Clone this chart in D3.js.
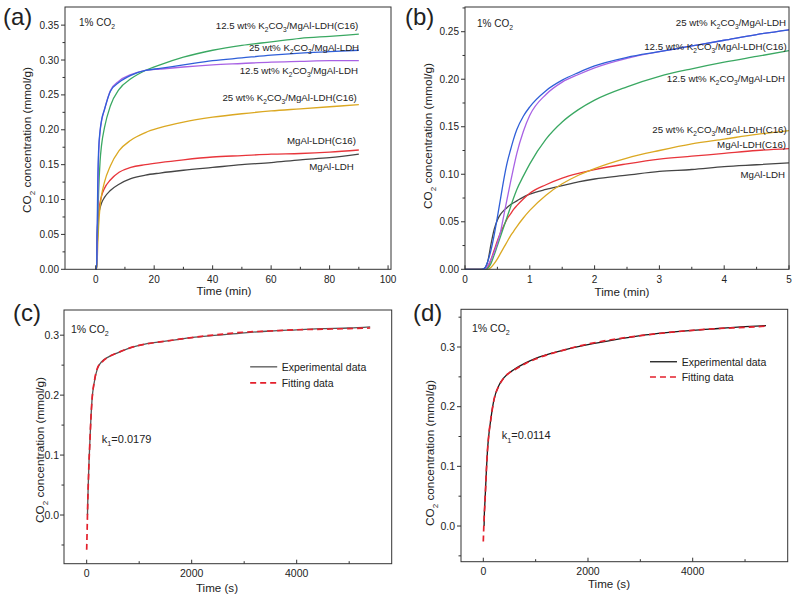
<!DOCTYPE html>
<html>
<meta charset="utf-8">
<script src="https://d3js.org/d3.v7.min.js"></script>
<style>
  body { margin: 0; background: #fff; }
  text { font-family: "Liberation Sans", Arial, sans-serif; fill: #222; white-space: pre; }
</style>
<body>
<div id="chart"></div>
<script>

// ---------- data ----------

// (a) uptake over 90 min
var timeA = [0, 0.3, 0.5, 0.75, 1, 1.5, 2, 3, 5, 8, 12, 17, 22, 30, 40, 50, 60, 70, 80, 90];
var aMgAl      = [0, 0, 0.052, 0.070, 0.079, 0.088, 0.095, 0.103, 0.113, 0.122, 0.130, 0.135, 0.138, 0.142, 0.146, 0.150, 0.153, 0.157, 0.160, 0.165];
var aMgAlC16   = [0, 0, 0.030, 0.063, 0.080, 0.096, 0.105, 0.116, 0.128, 0.139, 0.146, 0.150, 0.153, 0.157, 0.161, 0.163, 0.165, 0.166, 0.168, 0.171];
var a25C16     = [0, 0, 0.011, 0.040, 0.062, 0.090, 0.106, 0.125, 0.148, 0.170, 0.185, 0.196, 0.203, 0.211, 0.218, 0.223, 0.227, 0.230, 0.233, 0.236];
var a125C16    = [0, 0, 0.025, 0.075, 0.111, 0.155, 0.178, 0.203, 0.234, 0.258, 0.273, 0.285, 0.293, 0.304, 0.314, 0.321, 0.326, 0.331, 0.334, 0.337];
var a25        = [0, 0, 0.055, 0.137, 0.171, 0.199, 0.214, 0.229, 0.255, 0.268, 0.278, 0.285, 0.288, 0.293, 0.299, 0.303, 0.307, 0.310, 0.312, 0.314];
var a125       = [0, 0, 0.028, 0.110, 0.163, 0.197, 0.212, 0.229, 0.256, 0.270, 0.279, 0.285, 0.287, 0.290, 0.293, 0.295, 0.297, 0.298, 0.299, 0.299];

// (b) first 5 min
var timeB = [0, 0.25, 0.3, 0.35, 0.4, 0.45, 0.5, 0.55, 0.6, 0.65, 0.7, 0.75, 0.8, 0.9, 1, 1.25, 1.5, 1.75, 2, 2.5, 3, 3.5, 4, 4.5, 5];
var bMgAl    = [0, 0, 0.001, 0.008, 0.026, 0.042, 0.052, 0.058, 0.062, 0.065, 0.068, 0.070, 0.072, 0.076, 0.079, 0.084, 0.088, 0.092, 0.095, 0.099, 0.103, 0.105, 0.108, 0.110, 0.112];
var bMgAlC16 = [0, 0, 0, 0.002, 0.010, 0.020, 0.030, 0.039, 0.046, 0.053, 0.058, 0.063, 0.067, 0.074, 0.080, 0.089, 0.096, 0.101, 0.105, 0.111, 0.116, 0.119, 0.122, 0.125, 0.127];
var b25C16   = [0, 0, 0, 0, 0.002, 0.006, 0.011, 0.017, 0.023, 0.029, 0.035, 0.040, 0.045, 0.054, 0.062, 0.078, 0.090, 0.099, 0.106, 0.117, 0.125, 0.132, 0.137, 0.142, 0.146];
var b125C16  = [0, 0, 0, 0.001, 0.006, 0.015, 0.025, 0.035, 0.045, 0.055, 0.065, 0.075, 0.084, 0.098, 0.111, 0.137, 0.155, 0.168, 0.178, 0.192, 0.203, 0.211, 0.218, 0.224, 0.230];
var b25      = [0, 0, 0.001, 0.008, 0.020, 0.036, 0.055, 0.075, 0.095, 0.112, 0.125, 0.137, 0.147, 0.161, 0.171, 0.188, 0.199, 0.207, 0.214, 0.223, 0.229, 0.235, 0.241, 0.247, 0.252];
var b125     = [0, 0, 0, 0.004, 0.010, 0.018, 0.028, 0.040, 0.057, 0.074, 0.091, 0.107, 0.122, 0.145, 0.162, 0.184, 0.197, 0.205, 0.212, 0.222, 0.229, 0.235, 0.241, 0.247, 0.252];

// (c) and (d) experimental vs fitted, time in seconds
var timeExp = [15, 20, 30, 45, 60, 80, 100, 150, 200, 300, 400, 600, 800, 1000, 1500, 2000, 2500, 3000, 3500, 4000, 4500, 5000, 5400];
var timeFit = [0, 10, 20, 30, 45, 60, 80, 100, 150, 200, 300, 400, 600, 800, 1000, 1500, 2000, 2500, 3000, 3500, 4000, 4500, 5000, 5400];
var cExp = [0, 0.02, 0.05, 0.09, 0.12, 0.16, 0.19, 0.224, 0.243, 0.257, 0.263, 0.271, 0.278, 0.283, 0.290, 0.296, 0.300, 0.304, 0.307, 0.309, 0.311, 0.312, 0.314];
var cFit = [-0.058, -0.02, 0.02, 0.05, 0.09, 0.12, 0.16, 0.19, 0.225, 0.244, 0.256, 0.263, 0.271, 0.278, 0.283, 0.290, 0.296, 0.301, 0.305, 0.307, 0.309, 0.310, 0.311, 0.312];
var dExp = [0, 0.02, 0.038, 0.066, 0.095, 0.127, 0.148, 0.183, 0.210, 0.236, 0.249, 0.263, 0.273, 0.281, 0.294, 0.304, 0.312, 0.319, 0.324, 0.328, 0.331, 0.334, 0.336];
var dFit = [-0.026, 0.0, 0.02, 0.038, 0.066, 0.095, 0.127, 0.148, 0.183, 0.210, 0.235, 0.249, 0.262, 0.272, 0.280, 0.294, 0.305, 0.313, 0.319, 0.324, 0.328, 0.331, 0.333, 0.335];

// labels
var nameMgAl = "MgAl-LDH", nameMgAlC16 = "MgAl-LDH(C16)";
var name25C16 = "25 wt% K_2CO_3/MgAl-LDH(C16)", name125C16 = "12.5 wt% K_2CO_3/MgAl-LDH(C16)";
var name25 = "25 wt% K_2CO_3/MgAl-LDH", name125 = "12.5 wt% K_2CO_3/MgAl-LDH";

var colors = { black: "#454545", red: "#e8353b", gold: "#dba822", green: "#3aa862", blue: "#2f5fd8", purple: "#a862e4" };

var W = 796, H = 596;
var svg = d3.select("#chart").append("svg").attr("width", W).attr("height", H);

// text with "_x" as subscript
function rich(t, s, fs) {
  var parts = [], buf = "";
  for (var i = 0; i < s.length; i++) {
    if (s[i] === "_") { if (buf) parts.push([buf, false]); buf = ""; parts.push([s[i + 1], true]); i++; }
    else buf += s[i];
  }
  if (buf) parts.push([buf, false]);
  var down = false;
  parts.forEach(function(p) {
    var ts = t.append("tspan").text(p[0]);
    if (p[1]) { ts.attr("font-size", fs * 0.68).attr("dy", fs * 0.3); down = true; }
    else if (down) { ts.attr("dy", -fs * 0.3); down = false; }
  });
  return t;
}

function drawPanel(p) {
  var x = d3.scaleLinear().domain(p.xDom).range([p.frame.l, p.frame.r]);
  var y = d3.scaleLinear().domain(p.yDom).range([p.frame.b, p.frame.t]);
  var g = svg.append("g");

  // lines
  var line = d3.line().curve(d3.curveMonotoneX).x(function(d) { return x(d[0]); }).y(function(d) { return y(d[1]); });
  p.series.forEach(function(s) {
    g.append("path")
      .datum(d3.zip(s.t, s.v))
      .attr("d", line)
      .attr("fill", "none")
      .attr("stroke", s.color)
      .attr("stroke-width", s.w || 1.3)
      .attr("stroke-dasharray", s.dash || null);
  });

  // frame
  g.append("rect")
    .attr("x", p.frame.l).attr("y", p.frame.t)
    .attr("width", p.frame.r - p.frame.l).attr("height", p.frame.b - p.frame.t)
    .attr("fill", "none").attr("stroke", "#333").attr("stroke-width", 1);

  // x ticks point inward, y ticks outward
  p.xTicks.forEach(function(v) {
    g.append("line").attr("x1", x(v)).attr("x2", x(v)).attr("y1", p.frame.b).attr("y2", p.frame.b - 4).attr("stroke", "#333");
    g.append("text").attr("x", x(v)).attr("y", p.frame.b + p.xLabGap).attr("text-anchor", "middle")
      .attr("font-size", p.tickFs).text(p.xFmt(v));
  });
  p.xMinor.forEach(function(v) {
    g.append("line").attr("x1", x(v)).attr("x2", x(v)).attr("y1", p.frame.b).attr("y2", p.frame.b - 2.5).attr("stroke", "#333");
  });
  p.yTicks.forEach(function(v) {
    g.append("line").attr("x1", p.frame.l).attr("x2", p.frame.l - 4).attr("y1", y(v)).attr("y2", y(v)).attr("stroke", "#333");
    g.append("text").attr("x", p.frame.l - p.yLabGap).attr("y", y(v) + p.tickFs * 0.36).attr("text-anchor", "end")
      .attr("font-size", p.tickFs).text(p.yFmt(v));
  });
  p.yMinor.forEach(function(v) {
    g.append("line").attr("x1", p.frame.l).attr("x2", p.frame.l - 2.5).attr("y1", y(v)).attr("y2", y(v)).attr("stroke", "#333");
  });

  // axis titles
  g.append("text").attr("x", p.xTitle[0]).attr("y", p.xTitle[1]).attr("text-anchor", "middle")
    .attr("font-size", 11.6).text(p.xTitle[2]);
  rich(g.append("text").attr("transform", "translate(" + p.yTitle[0] + "," + p.yTitle[1] + ") rotate(-90)")
    .attr("text-anchor", "middle").attr("font-size", 11.8), "CO_2 concentration (mmol/g)", 11.8);

  // panel letter
  g.append("text").attr("x", p.letter[0]).attr("y", p.letter[1]).attr("font-size", 24).attr("fill", "#111").text(p.letter[2]);

  // annotations in data coordinates
  p.notes.forEach(function(n) {
    rich(g.append("text").attr("x", x(n.x)).attr("y", y(n.y)).attr("text-anchor", n.anchor || "start")
      .attr("font-size", n.fs), n.text, n.fs);
  });

  // legend (c, d)
  if (p.legend) {
    p.legend.forEach(function(l) {
      g.append("line").attr("x1", x(l.x0)).attr("x2", x(l.x1)).attr("y1", y(l.y)).attr("y2", y(l.y))
        .attr("stroke", l.color).attr("stroke-width", l.w).attr("stroke-dasharray", l.dash || null);
      g.append("text").attr("x", x(l.tx)).attr("y", y(l.y) + 3.8).attr("font-size", 10.5).text(l.text);
    });
  }
}

var f2 = d3.format(".2f"), f1 = d3.format(".1f"), fInt = d3.format("d");
var labFs = 9.7;

drawPanel({
  frame: { l: 65, r: 391, t: 7, b: 269.3 },
  xDom: [-10.5, 101], yDom: [0, 0.376],
  xTicks: [0, 20, 40, 60, 80, 100], xMinor: [10, 30, 50, 70, 90],
  yTicks: [0, 0.05, 0.1, 0.15, 0.2, 0.25, 0.3, 0.35], yMinor: [0.025, 0.075, 0.125, 0.175, 0.225, 0.275, 0.325],
  xFmt: fInt, yFmt: f2, tickFs: 10, xLabGap: 13.5, yLabGap: 6,
  xTitle: [224, 295, "Time (min)"], yTitle: [31, 140],
  letter: [3, 25, "(a)"],
  series: [
    { t: timeA, v: aMgAl, color: colors.black },
    { t: timeA, v: aMgAlC16, color: colors.red },
    { t: timeA, v: a25C16, color: colors.gold },
    { t: timeA, v: a125C16, color: colors.green },
    { t: timeA, v: a125, color: colors.purple },
    { t: timeA, v: a25, color: colors.blue }
  ],
  notes: [
    { x: -5.7, y: 0.349, text: "1% CO_2", fs: 10 },
    { x: 89.8, y: 0.3445, text: name125C16, fs: labFs, anchor: "end" },
    { x: 90.1, y: 0.313, text: name25, fs: labFs, anchor: "end" },
    { x: 89.7, y: 0.280, text: name125, fs: labFs, anchor: "end" },
    { x: 89.3, y: 0.2417, text: name25C16, fs: labFs, anchor: "end" },
    { x: 89, y: 0.179, text: nameMgAlC16, fs: labFs, anchor: "end" },
    { x: 88.3, y: 0.142, text: nameMgAl, fs: labFs, anchor: "end" }
  ]
});

drawPanel({
  frame: { l: 465, r: 789, t: 7, b: 269.3 },
  xDom: [0, 5], yDom: [0, 0.276],
  xTicks: [0, 1, 2, 3, 4, 5], xMinor: [0.5, 1.5, 2.5, 3.5, 4.5],
  yTicks: [0, 0.05, 0.1, 0.15, 0.2, 0.25], yMinor: [0.025, 0.075, 0.125, 0.175, 0.225, 0.275],
  xFmt: fInt, yFmt: f2, tickFs: 10, xLabGap: 14, yLabGap: 6,
  xTitle: [622, 296, "Time (min)"], yTitle: [432, 136],
  letter: [405, 25, "(b)"],
  series: [
    { t: timeB, v: bMgAl, color: colors.black },
    { t: timeB, v: bMgAlC16, color: colors.red },
    { t: timeB, v: b25C16, color: colors.gold },
    { t: timeB, v: b125C16, color: colors.green },
    { t: timeB, v: b125, color: colors.purple },
    { t: timeB, v: b25, color: colors.blue }
  ],
  notes: [
    { x: 0.185, y: 0.2554, text: "1% CO_2", fs: 10 },
    { x: 4.954, y: 0.2561, text: name25, fs: labFs, anchor: "end" },
    { x: 4.965, y: 0.2308, text: name125C16, fs: labFs, anchor: "end" },
    { x: 4.94, y: 0.1972, text: name125, fs: labFs, anchor: "end" },
    { x: 4.965, y: 0.1435, text: name25C16, fs: labFs, anchor: "end" },
    { x: 4.954, y: 0.1277, text: nameMgAlC16, fs: labFs, anchor: "end" },
    { x: 4.94, y: 0.0961, text: nameMgAl, fs: labFs, anchor: "end" }
  ]
});

drawPanel({
  frame: { l: 64, r: 391.7, t: 310, b: 563.7 },
  xDom: [-432, 5810], yDom: [-0.0812, 0.342],
  xTicks: [0, 2000, 4000], xMinor: [1000, 3000, 5000],
  yTicks: [0, 0.1, 0.2, 0.3], yMinor: [-0.05, 0.05, 0.15, 0.25],
  xFmt: fInt, yFmt: f1, tickFs: 10.5, xLabGap: 13.5, yLabGap: 5,
  xTitle: [217, 592, "Time (s)"], yTitle: [44, 450],
  letter: [13, 321, "(c)"],
  series: [
    { t: timeExp, v: cExp, color: "#555", w: 1.3 },
    { t: timeFit, v: cFit, color: "#e4202c", w: 1.7, dash: "6,4" }
  ],
  notes: [
    { x: -299, y: 0.3038, text: "1% CO_2", fs: 10.5 },
    { x: 286, y: 0.1205, text: "k_1=0.0179", fs: 11 }
  ],
  legend: [
    { x0: 3114, x1: 3629, tx: 3714, y: 0.2472, color: "#555", w: 1.3, text: "Experimental data" },
    { x0: 3114, x1: 3629, tx: 3714, y: 0.2205, color: "#e4202c", w: 1.7, dash: "6,4", text: "Fitting data" }
  ]
});

drawPanel({
  frame: { l: 461, r: 787.7, t: 309.3, b: 561.7 },
  xDom: [-426, 5815], yDom: [-0.0598, 0.3632],
  xTicks: [0, 2000, 4000], xMinor: [1000, 3000, 5000],
  yTicks: [0, 0.1, 0.2, 0.3], yMinor: [-0.05, 0.05, 0.15, 0.25, 0.35],
  xFmt: fInt, yFmt: f1, tickFs: 10.5, xLabGap: 13, yLabGap: 6,
  xTitle: [609, 588, "Time (s)"], yTitle: [434, 453],
  letter: [413, 321, "(d)"],
  series: [
    { t: timeExp, v: dExp, color: "#1a1a1a", w: 1.3 },
    { t: timeFit, v: dFit, color: "#e4202c", w: 1.7, dash: "6,4" }
  ],
  notes: [
    { x: -216, y: 0.3251, text: "1% CO_2", fs: 10.5 },
    { x: 351, y: 0.1453, text: "k_1=0.0114", fs: 11 }
  ],
  legend: [
    { x0: 3184, x1: 3700, tx: 3790, y: 0.2753, color: "#1a1a1a", w: 1.3, text: "Experimental data" },
    { x0: 3184, x1: 3700, tx: 3790, y: 0.2497, color: "#e4202c", w: 1.7, dash: "6,4", text: "Fitting data" }
  ]
});

</script>
</body>
</html>
